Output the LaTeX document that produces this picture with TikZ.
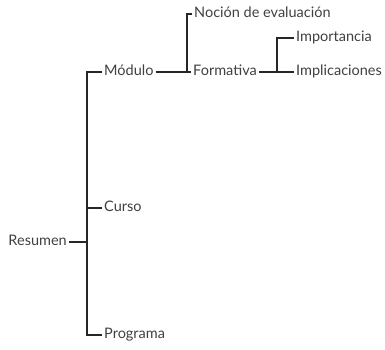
\documentclass[tikz,border=0pt]{standalone}
\usepackage{fontspec}
\setmainfont{Lato}
\begin{document}
\begin{tikzpicture}[x=1pt,y=1pt,
  lbl/.style={anchor=west,inner xsep=2pt,inner ysep=0pt,text height=0.72em,text depth=0pt,font=\fontsize{14.5}{16}\selectfont,text=black!75},
  conn/.style={line width=1.3pt,black!85}]
\useasboundingbox (0,0) rectangle (385,-350);
\node[lbl,anchor=east] (resumen) at (69,-242) {Resumen};
\node[lbl] (modulo) at (102,-72) {Módulo};
\node[lbl] (curso) at (102,-208) {Curso};
\node[lbl] (programa) at (102,-335) {Programa};
\node[lbl] (nocion) at (192,-14) {Noción de evaluación};
\node[lbl] (formativa) at (191,-72) {Formativa};
\node[lbl] (importancia) at (294,-38) {Importancia};
\node[lbl] (implicaciones) at (294,-72) {Implicaciones};
\coordinate (j1) at (87,-242);
\coordinate (j2) at (187,-72);
\coordinate (j3) at (277,-72);
\draw[conn] (resumen.east) -- (j1);
\draw[conn] (modulo.west) -| (j1) |- (programa.west);
\draw[conn] (curso.west) -- (curso.west -| j1);
\draw[conn] (modulo.east) -- (formativa.west);
\draw[conn] (nocion.west) -| (j2);
\draw[conn] (formativa.east) -- (implicaciones.west);
\draw[conn] (importancia.west) -| (j3);
\end{tikzpicture}
\end{document}
